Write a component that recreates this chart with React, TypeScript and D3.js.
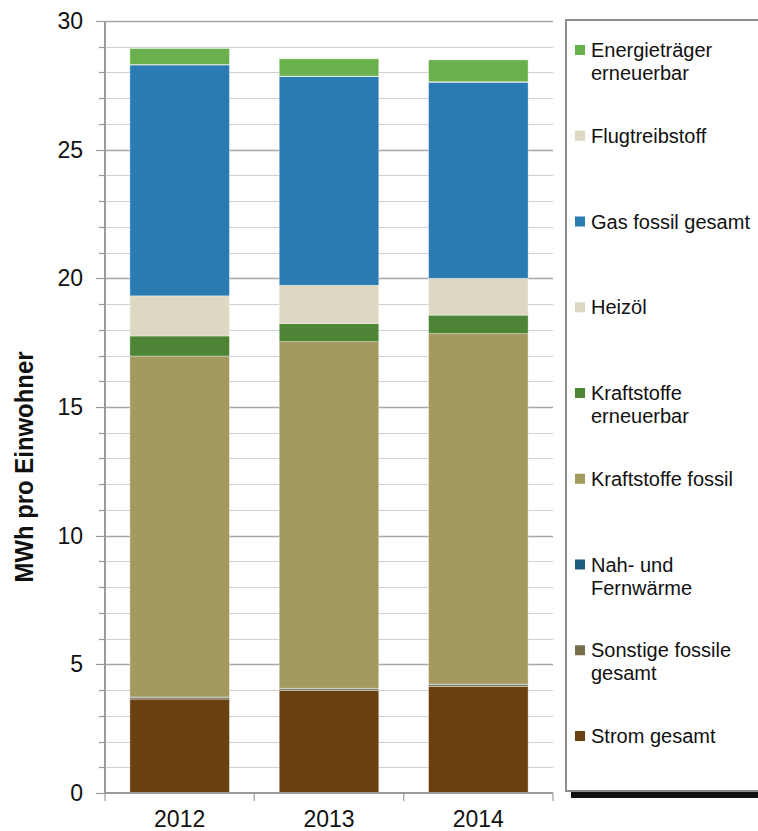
import { useEffect, useRef } from 'react'
import * as d3 from 'd3'

// years on the x axis
const years = ['2012', '2013', '2014']

// series, bottom of the stack first (values in MWh per inhabitant)
const seriesNames = [
  'Strom gesamt',
  'Sonstige fossile gesamt',
  'Nah- und Fernwärme',
  'Kraftstoffe fossil',
  'Kraftstoffe erneuerbar',
  'Heizöl',
  'Gas fossil gesamt',
  'Flugtreibstoff',
  'Energieträger erneuerbar',
]

const stromGesamt = [3.65, 3.98, 4.14]
const sonstigeFossile = [0.06, 0.07, 0.07]
const nahFernwaerme = [0.02, 0.02, 0.02]
const kraftstoffeFossil = [13.25, 13.47, 13.62]
const kraftstoffeErneuerbar = [0.78, 0.7, 0.72]
const heizoel = [1.56, 1.49, 1.43]
const gasFossil = [8.97, 8.11, 7.62]
const flugtreibstoff = [0.02, 0.02, 0.02]
const energietraegerErneuerbar = [0.62, 0.67, 0.85]

const seriesValues = [
  stromGesamt,
  sonstigeFossile,
  nahFernwaerme,
  kraftstoffeFossil,
  kraftstoffeErneuerbar,
  heizoel,
  gasFossil,
  flugtreibstoff,
  energietraegerErneuerbar,
]

const seriesColors = [
  '#6a4011',
  '#776f4a',
  '#1f5a80',
  '#a49a5f',
  '#4e8435',
  '#ddd8c2',
  '#2b7bb3',
  '#ddd8c2',
  '#6ab04c',
]

// legend lines, top to bottom
const legendLabels = [
  ['Energieträger', 'erneuerbar'],
  ['Flugtreibstoff'],
  ['Gas fossil gesamt'],
  ['Heizöl'],
  ['Kraftstoffe', 'erneuerbar'],
  ['Kraftstoffe fossil'],
  ['Nah- und', 'Fernwärme'],
  ['Sonstige fossile', 'gesamt'],
  ['Strom gesamt'],
]

const yTicks = [0, 5, 10, 15, 20, 25, 30]

export default function App() {
  const svgRef = useRef<SVGSVGElement>(null)

  useEffect(() => {
    if (!svgRef.current) return
    const svg = d3.select(svgRef.current)
    svg.selectAll('*').remove()

    const font = 'Liberation Sans, Arial, sans-serif'
    const left = 105
    const right = 553
    const top = 21
    const bottom = 793

    const rows = years.map((year, i) => {
      const row: Record<string, number | string> = { year }
      seriesNames.forEach((name, s) => (row[name] = seriesValues[s][i]))
      return row
    })

    const stacked = d3.stack<Record<string, number | string>>().keys(seriesNames)(rows as any)

    const x = d3.scaleBand().domain(years).range([left, right]).paddingInner(1 / 3).paddingOuter(1 / 6)
    const y = d3.scaleLinear().domain([0, 30]).range([bottom, top])

    // gridlines
    const g = svg.append('g')
    d3.range(1, 31).forEach((v) => {
      g.append('line')
        .attr('x1', left)
        .attr('x2', right)
        .attr('y1', Math.round(y(v)) + 0.5)
        .attr('y2', Math.round(y(v)) + 0.5)
        .attr('stroke', v % 5 === 0 ? '#a6a6a6' : '#d0d0d0')
        .attr('stroke-width', v % 5 === 0 ? 1.5 : 1)
    })

    // bars
    stacked.forEach((layer, s) => {
      g.append('g')
        .selectAll('rect')
        .data(layer)
        .enter()
        .append('rect')
        .attr('x', (_d, i) => x(years[i])!)
        .attr('width', x.bandwidth())
        .attr('y', (d) => y(d[1]))
        .attr('height', (d) => y(d[0]) - y(d[1]))
        .attr('fill', seriesColors[s])
        .attr('stroke', 'rgba(255,255,255,0.45)')
        .attr('stroke-width', 0.8)
    })

    // y axis
    g.append('line')
      .attr('x1', left).attr('x2', left)
      .attr('y1', top).attr('y2', bottom)
      .attr('stroke', '#9a9a9a').attr('stroke-width', 2)
    d3.range(0, 31).forEach((v) => {
      g.append('line')
        .attr('x1', v % 5 === 0 ? left - 9 : left - 6)
        .attr('x2', left)
        .attr('y1', Math.round(y(v)) + 0.5)
        .attr('y2', Math.round(y(v)) + 0.5)
        .attr('stroke', '#9a9a9a')
        .attr('stroke-width', 1.2)
    })
    g.selectAll('text.ytick')
      .data(yTicks)
      .enter()
      .append('text')
      .attr('class', 'ytick')
      .attr('x', 83)
      .attr('y', (d) => y(d))
      .attr('dy', '0.35em')
      .attr('text-anchor', 'end')
      .attr('font-family', font)
      .attr('font-size', 23)
      .attr('fill', '#111')
      .text((d) => d)

    // x axis
    g.append('line')
      .attr('x1', left).attr('x2', right)
      .attr('y1', bottom).attr('y2', bottom)
      .attr('stroke', '#9a9a9a').attr('stroke-width', 2)
    const step = x.step()
    d3.range(0, years.length + 1).forEach((i) => {
      const xx = left + i * step
      g.append('line')
        .attr('x1', xx).attr('x2', xx)
        .attr('y1', bottom).attr('y2', bottom + 8)
        .attr('stroke', '#9a9a9a').attr('stroke-width', 1.2)
    })
    g.selectAll('text.xtick')
      .data(years)
      .enter()
      .append('text')
      .attr('class', 'xtick')
      .attr('x', (d) => x(d)! + x.bandwidth() / 2)
      .attr('y', 827)
      .attr('text-anchor', 'middle')
      .attr('font-family', font)
      .attr('font-size', 23)
      .attr('fill', '#111')
      .text((d) => d)

    // axis title
    g.append('text')
      .attr('transform', `translate(33,467) rotate(-90)`)
      .attr('text-anchor', 'middle')
      .attr('font-family', font)
      .attr('font-weight', 'bold')
      .attr('font-size', 26)
      .attr('textLength', 231)
      .attr('lengthAdjust', 'spacingAndGlyphs')
      .attr('fill', '#111')
      .text('MWh pro Einwohner')

    // legend box with shadow
    const lg = svg.append('g')
    lg.append('rect').attr('x', 571).attr('y', 26).attr('width', 200).attr('height', 772).attr('fill', '#111')
    lg.append('rect')
      .attr('x', 566).attr('y', 20).attr('width', 200).attr('height', 771)
      .attr('fill', '#fff').attr('stroke', '#8c8c8c').attr('stroke-width', 2)

    const ly = d3.scaleLinear().domain([0, legendLabels.length - 1]).range([50, 736])
    legendLabels.forEach((lines, i) => {
      const cy = ly(i)
      lg.append('rect')
        .attr('x', 575).attr('y', cy - 5).attr('width', 10).attr('height', 10)
        .attr('fill', seriesColors[seriesColors.length - 1 - i])
      lines.forEach((line, k) => {
        lg.append('text')
          .attr('x', 591)
          .attr('y', cy + k * 23)
          .attr('dy', '0.35em')
          .attr('font-family', font)
          .attr('font-size', 20)
          .attr('fill', '#111')
          .text(line)
      })
    })
  }, [])

  return (
    <div style={{ position: 'absolute', left: 0, top: 0, width: 758, height: 831, background: '#fff' }}>
      <svg ref={svgRef} width={758} height={831} />
    </div>
  )
}
